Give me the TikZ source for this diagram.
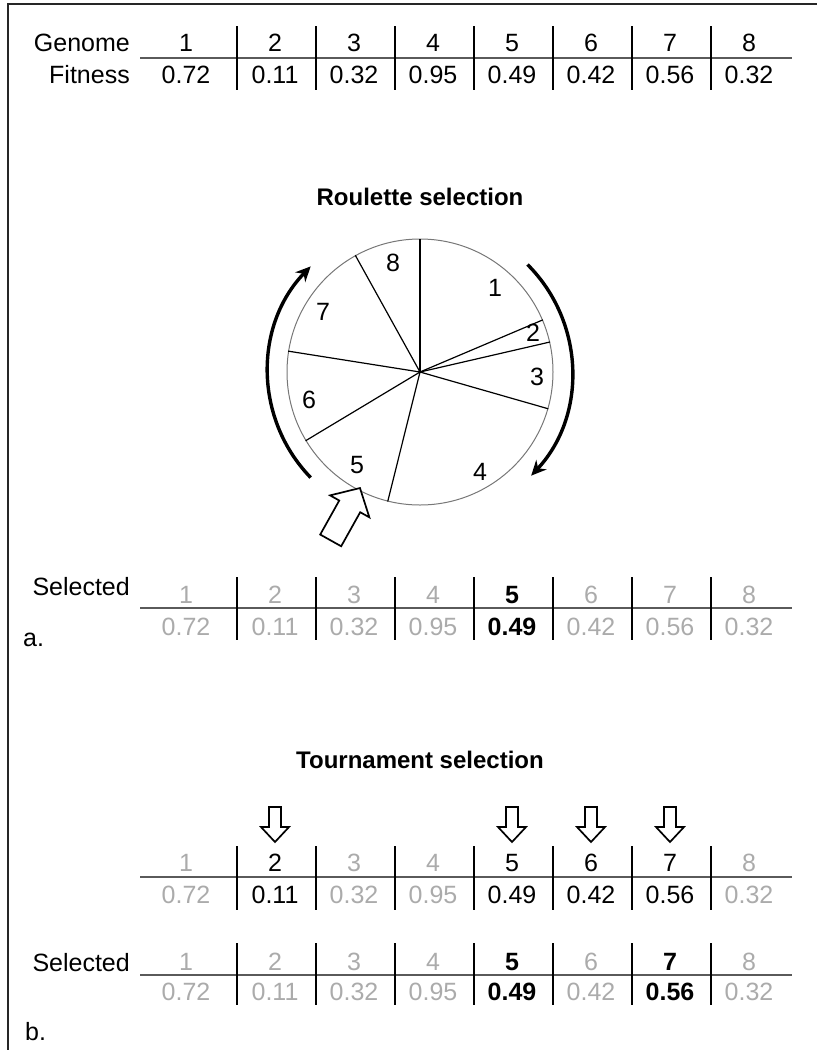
\documentclass[tikz,border=0pt]{standalone}
\usepackage{fontspec}
\setmainfont{Liberation Sans}
\usepackage{tikz}
\usetikzlibrary{arrows.meta}
\definecolor{faint}{HTML}{ABABAB}
\definecolor{rulegray}{HTML}{5A5A5A}
\definecolor{rimgray}{HTML}{777777}
\newcommand{\tablerules}[3]{%
  \draw[rowrule] (140,#2) -- (792,#2);
  \foreach \k in {1,...,7} {\draw[colrule] ({79*\k+158},#1) -- ({79*\k+158},#3);}
}
\tikzset{
  cell/.style={font=\fontsize{25}{29}\selectfont, inner sep=0pt},
  faded/.style={text=faint},
  picked/.style={font=\fontsize{25}{29}\selectfont\bfseries},
  plain/.style={},
  rowlabel/.style={cell, anchor=east},
  rowrule/.style={draw=rulegray, line width=2pt},
  colrule/.style={draw=black, line width=1.5pt},
  title/.style={font=\fontsize{24}{28}\selectfont\bfseries, inner sep=0pt},
  slice/.style={line width=1.2pt},
  spin/.style={line width=3.4pt, -{Stealth[length=15pt, width=14pt]}},
  hollow/.style={draw=black, fill=white, line width=1.7pt, line join=miter},
  pics/blockarrow/.style args={#1/#2/#3/#4}{code={
    \draw[hollow] (0,{-#4/2}) -- ({#1-#2},{-#4/2}) -- ({#1-#2},{-#3/2}) -- (#1,0)
      -- ({#1-#2},{#3/2}) -- ({#1-#2},{#4/2}) -- (0,{#4/2}) -- cycle;
  }}
}

\begin{document}
\begin{tikzpicture}[x=1pt, y=-1pt]
\useasboundingbox (0,0) rectangle (817,1050);
\draw[black!85, line width=1.6pt] (8,1050) -- (8,4) -- (817,4);

% genomes and their fitness
\node[rowlabel] (genome) at (130,43) {Genome};
\node[rowlabel] (fitness) at (130,75) {Fitness};
\foreach \i/\f in {1/0.72, 2/0.11, 3/0.32, 4/0.95, 5/0.49, 6/0.42, 7/0.56, 8/0.32} {
  \pgfmathsetmacro{\cx}{\i==1 ? 186 : 79*\i+117}
  \node[cell] (g\i) at (\cx,43) {\i};
  \node[cell] (f\i) at (\cx,75) {\f};
}
\tablerules{26}{58}{90}

% roulette wheel
\node[title] (roulette) at (420,197) {Roulette selection};
\node[circle, draw=rimgray, line width=1pt, minimum size=266pt, inner sep=0pt] (wheel) at (420,372) {};
\foreach \a in {90, 23.37, 13.19, -16.43, -104.34, -149.69, 171.44, 119.61}
  \draw[slice] (wheel.center) -- (wheel.\a);
\foreach \i/\lx/\ly in {1/495/288, 2/533/333, 3/537/377, 4/480/472, 5/357/465, 6/309/400, 7/323/312, 8/393/263}
  \node[cell] (s\i) at (\lx,\ly) {\i};
\draw[spin] ([shift={(45:152pt)}]wheel.center) arc[start angle=45, end angle=-43, radius=152pt];
\draw[spin] ([shift={(224:152pt)}]wheel.center) arc[start angle=224, end angle=136, radius=152pt];
\pic[rotate=60.8] at (330.7,540.4) {blockarrow=60/21/45/24};

% roulette result
\node[rowlabel] (sela) at (130,587) {Selected};
\foreach \i/\f/\s in {1/0.72/faded, 2/0.11/faded, 3/0.32/faded, 4/0.95/faded, 5/0.49/picked, 6/0.42/faded, 7/0.56/faded, 8/0.32/faded} {
  \pgfmathsetmacro{\cx}{\i==1 ? 186 : 79*\i+117}
  \node[cell, \s] (ag\i) at (\cx,595) {\i};
  \node[cell, \s] (af\i) at (\cx,627) {\f};
}
\tablerules{577}{608}{640}
\node[cell, anchor=west] (parta) at (23,640) {a.};

% tournament
\node[title] (tournament) at (420,760) {Tournament selection};
\foreach \i in {2,5,6,7}
  \pic[rotate=-90] at ({79*\i+117},807) {blockarrow=35/15/28/12};
\foreach \i/\f/\s in {1/0.72/faded, 2/0.11/plain, 3/0.32/faded, 4/0.95/faded, 5/0.49/plain, 6/0.42/plain, 7/0.56/plain, 8/0.32/faded} {
  \pgfmathsetmacro{\cx}{\i==1 ? 186 : 79*\i+117}
  \node[cell, \s] (tg\i) at (\cx,863) {\i};
  \node[cell, \s] (tf\i) at (\cx,895) {\f};
}
\tablerules{846}{877}{910}

% tournament result
\node[rowlabel] (selb) at (130,963) {Selected};
\foreach \i/\f/\s in {1/0.72/faded, 2/0.11/faded, 3/0.32/faded, 4/0.95/faded, 5/0.49/picked, 6/0.42/faded, 7/0.56/picked, 8/0.32/faded} {
  \pgfmathsetmacro{\cx}{\i==1 ? 186 : 79*\i+117}
  \node[cell, \s] (bg\i) at (\cx,962) {\i};
  \node[cell, \s] (bf\i) at (\cx,992) {\f};
}
\tablerules{943}{975}{1005}
\node[cell, anchor=west] (partb) at (25,1032) {b.};
\end{tikzpicture}
\end{document}
